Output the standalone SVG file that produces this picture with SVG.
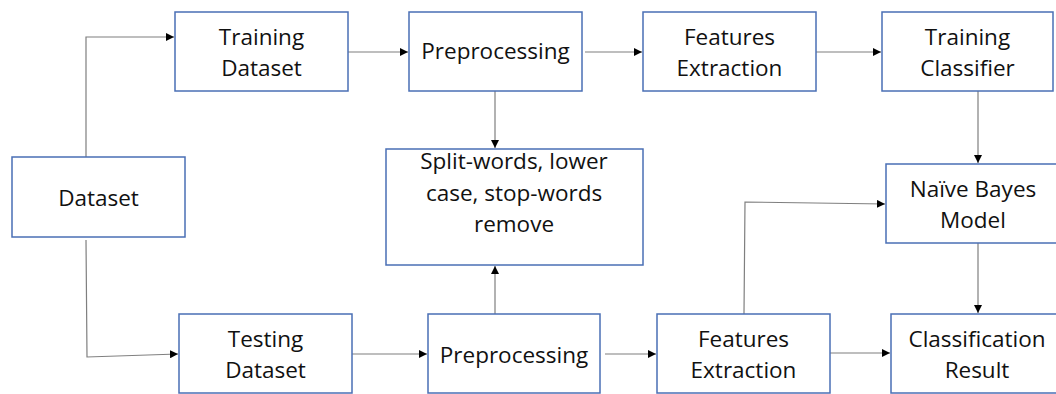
<svg xmlns="http://www.w3.org/2000/svg" width="1056" height="394" viewBox="0 0 1056 394">
<style>
.box{fill:#fff;stroke:#4a6fb5;stroke-width:1.5}
.lbl{font-family:"Open Sans",sans-serif;font-size:22.5px;fill:#111;text-anchor:middle}
.c{fill:none;stroke:#7f7f7f;stroke-width:1.2}
</style>
<defs>
<marker id="ah" markerUnits="userSpaceOnUse" markerWidth="9" markerHeight="8" refX="8" refY="4" orient="auto">
<path d="M0,0 L8,4 L0,8 Z" fill="#000"/>
</marker>
</defs>
<rect width="1056" height="394" fill="#fff"/>
<g id="connectors">
<polyline class="c" points="86,157 86,37 174,37" marker-end="url(#ah)"/>
<polyline class="c" points="86,240 87,357 178,354" marker-end="url(#ah)"/>
<line class="c" x1="348" y1="52" x2="408" y2="52" marker-end="url(#ah)"/>
<line class="c" x1="585" y1="52" x2="642" y2="52" marker-end="url(#ah)"/>
<line class="c" x1="816" y1="52" x2="881" y2="52" marker-end="url(#ah)"/>
<line class="c" x1="495" y1="91" x2="495" y2="148" marker-end="url(#ah)"/>
<line class="c" x1="495" y1="318" x2="495" y2="266" marker-end="url(#ah)"/>
<line class="c" x1="978" y1="91" x2="978" y2="163" marker-end="url(#ah)"/>
<line class="c" x1="978" y1="243" x2="978" y2="313" marker-end="url(#ah)"/>
<polyline class="c" points="744,314 745,202 885,204" marker-end="url(#ah)"/>
<line class="c" x1="352" y1="354" x2="427" y2="354" marker-end="url(#ah)"/>
<line class="c" x1="605" y1="354" x2="656" y2="354" marker-end="url(#ah)"/>
<line class="c" x1="830" y1="353" x2="890" y2="353" marker-end="url(#ah)"/>
</g>
<g id="dataset"><rect class="box" x="12" y="157" width="173" height="80"/><text class="lbl" x="98.5" y="206">Dataset</text></g>
<g id="training-dataset"><rect class="box" x="175" y="12" width="173" height="79"/><text class="lbl" x="261.5" y="45">Training</text><text class="lbl" x="261.5" y="76">Dataset</text></g>
<g id="preprocessing-train"><rect class="box" x="409" y="12" width="173" height="79"/><text class="lbl" x="495.5" y="59">Preprocessing</text></g>
<g id="features-train"><rect class="box" x="643" y="12" width="173" height="79"/><text class="lbl" x="729.5" y="45">Features</text><text class="lbl" x="729.5" y="76">Extraction</text></g>
<g id="training-classifier"><rect class="box" x="882" y="12" width="171" height="79"/><text class="lbl" x="967.5" y="45">Training</text><text class="lbl" x="967.5" y="76">Classifier</text></g>
<g id="split-words"><rect class="box" x="386" y="149" width="257" height="116"/><text class="lbl" x="514" y="169">Split-words, lower</text><text class="lbl" x="514" y="201">case, stop-words</text><text class="lbl" x="514" y="232">remove</text></g>
<g id="naive-bayes"><rect class="box" x="886" y="164" width="174" height="79"/><text class="lbl" x="973" y="197">Naïve Bayes</text><text class="lbl" x="973" y="228">Model</text></g>
<g id="testing-dataset"><rect class="box" x="179" y="314" width="173" height="79"/><text class="lbl" x="265.5" y="347">Testing</text><text class="lbl" x="265.5" y="378">Dataset</text></g>
<g id="preprocessing-test"><rect class="box" x="428" y="314" width="172" height="79"/><text class="lbl" x="514" y="363">Preprocessing</text></g>
<g id="features-test"><rect class="box" x="657" y="314" width="173" height="79"/><text class="lbl" x="743.5" y="347">Features</text><text class="lbl" x="743.5" y="378">Extraction</text></g>
<g id="classification-result"><rect class="box" x="891" y="314" width="172" height="79"/><text class="lbl" x="977" y="347">Classification</text><text class="lbl" x="977" y="378">Result</text></g>
</svg>
